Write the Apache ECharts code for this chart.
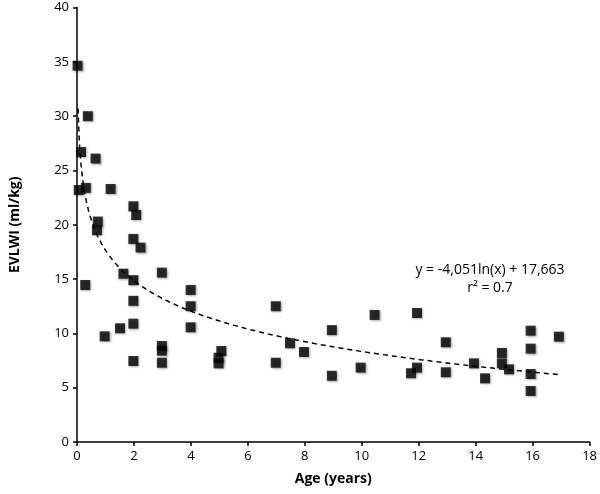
<!DOCTYPE html>
<html><head><meta charset="utf-8">
<script src="https://cdn.jsdelivr.net/npm/echarts@6/dist/echarts.min.js"></script>
<style>html,body{margin:0;padding:0;background:#fff}#c{width:600px;height:494px}</style>
</head><body><div id="c"></div>
<script>
// Observed points (age in years, EVLWI ml/kg)
const ages = [0.02,0.38,0.14,0.65,0.06,0.31,1.18,0.73,0.70,1.98,2.08,1.98,2.23,
  0.29,1.63,1.98,2.98,1.98,3.99,3.99,3.99,1.98,1.51,0.97,1.98,2.98,2.98,2.98,4.97,5.07,4.97,
  6.98,6.98,7.48,7.97,8.95,8.95,9.96,10.45,11.94,11.73,11.94,
  12.95,12.95,13.94,14.33,14.92,14.92,15.17,15.93,15.93,15.93,15.93,16.92];
const evlwi = [34.65,30.0,26.7,26.1,23.2,23.4,23.3,20.3,19.5,21.7,20.9,18.7,17.9,
  14.46,15.5,14.9,15.6,13.0,14.0,12.5,10.56,10.9,10.47,9.73,7.46,8.84,8.41,7.3,7.76,8.38,7.24,
  12.5,7.3,9.09,8.29,10.3,6.1,6.85,11.7,11.88,6.33,6.85,
  9.18,6.42,7.24,5.86,8.2,7.24,6.69,10.25,8.6,6.26,4.7,9.7];
const xTicks = [0,2,4,6,8,10,12,14,16,18];
const yTicks = [0,5,10,15,20,25,30,35,40];
// Logarithmic trend line coefficients shown on the chart
const trendA = -4.051, trendB = 17.663;
const trendStart = 0.04, trendEnd = 17;
const trendLabel = 'y = -4,051ln(x) + 17,663';
const r2Label = 'r² = 0.7';

const pts = ages.map((a,i)=>[a,evlwi[i]]);
const trend = [];
for (let x = trendStart; x <= trendEnd + 1e-9; x *= 1.05) trend.push([x, trendA*Math.log(x)+trendB]);
trend.push([trendEnd, trendA*Math.log(trendEnd)+trendB]);

const font = '"Open Sans", Lato, sans-serif';
const chart = echarts.init(document.getElementById('c'), null, {renderer:'canvas'});
chart.setOption({
  animation:false,
  grid:{left:75, right:7.5, top:7.6, bottom:52, containLabel:false},
  xAxis:{type:'value', min:0, max:18, interval:2,
    name:'Age (years)', nameLocation:'middle', nameGap:30,
    nameTextStyle:{fontFamily:font, fontWeight:'bold', fontSize:14, color:'#000'},
    axisLine:{lineStyle:{color:'#000', width:1.5}},
    axisTick:{show:true, length:4, lineStyle:{color:'#000', width:1.5}},
    axisLabel:{fontFamily:font, fontSize:13, color:'#000', margin:8},
    splitLine:{show:false}},
  yAxis:{type:'value', min:0, max:40, interval:5,
    name:'EVLWI (ml/kg)', nameLocation:'middle', nameGap:55, nameRotate:90,
    nameTextStyle:{fontFamily:font, fontWeight:'bold', fontSize:14, color:'#000'},
    axisLine:{show:true, lineStyle:{color:'#000', width:1.5}},
    axisTick:{show:true, length:4, lineStyle:{color:'#000', width:1.5}},
    axisLabel:{fontFamily:font, fontSize:13, color:'#000', margin:8},
    splitLine:{show:false}},
  series:[
    {type:'line', data:trend, showSymbol:false, symbol:'none', smooth:false,
      lineStyle:{color:'#000', width:1.5, type:[5,4]}, z:1},
    {type:'scatter', data:pts, symbol:'rect', symbolSize:10,
      itemStyle:{color:'#000', shadowBlur:2, shadowColor:'rgba(0,0,0,0.4)', shadowOffsetX:1, shadowOffsetY:1}, z:2}
  ],
  graphic:[
    {type:'text', x:490, y:279,
      style:{text:trendLabel+'\n'+r2Label, textAlign:'center', textVerticalAlign:'middle',
        font:'14px '+font, fill:'#000', lineHeight:18}}
  ]
});
</script></body></html>
